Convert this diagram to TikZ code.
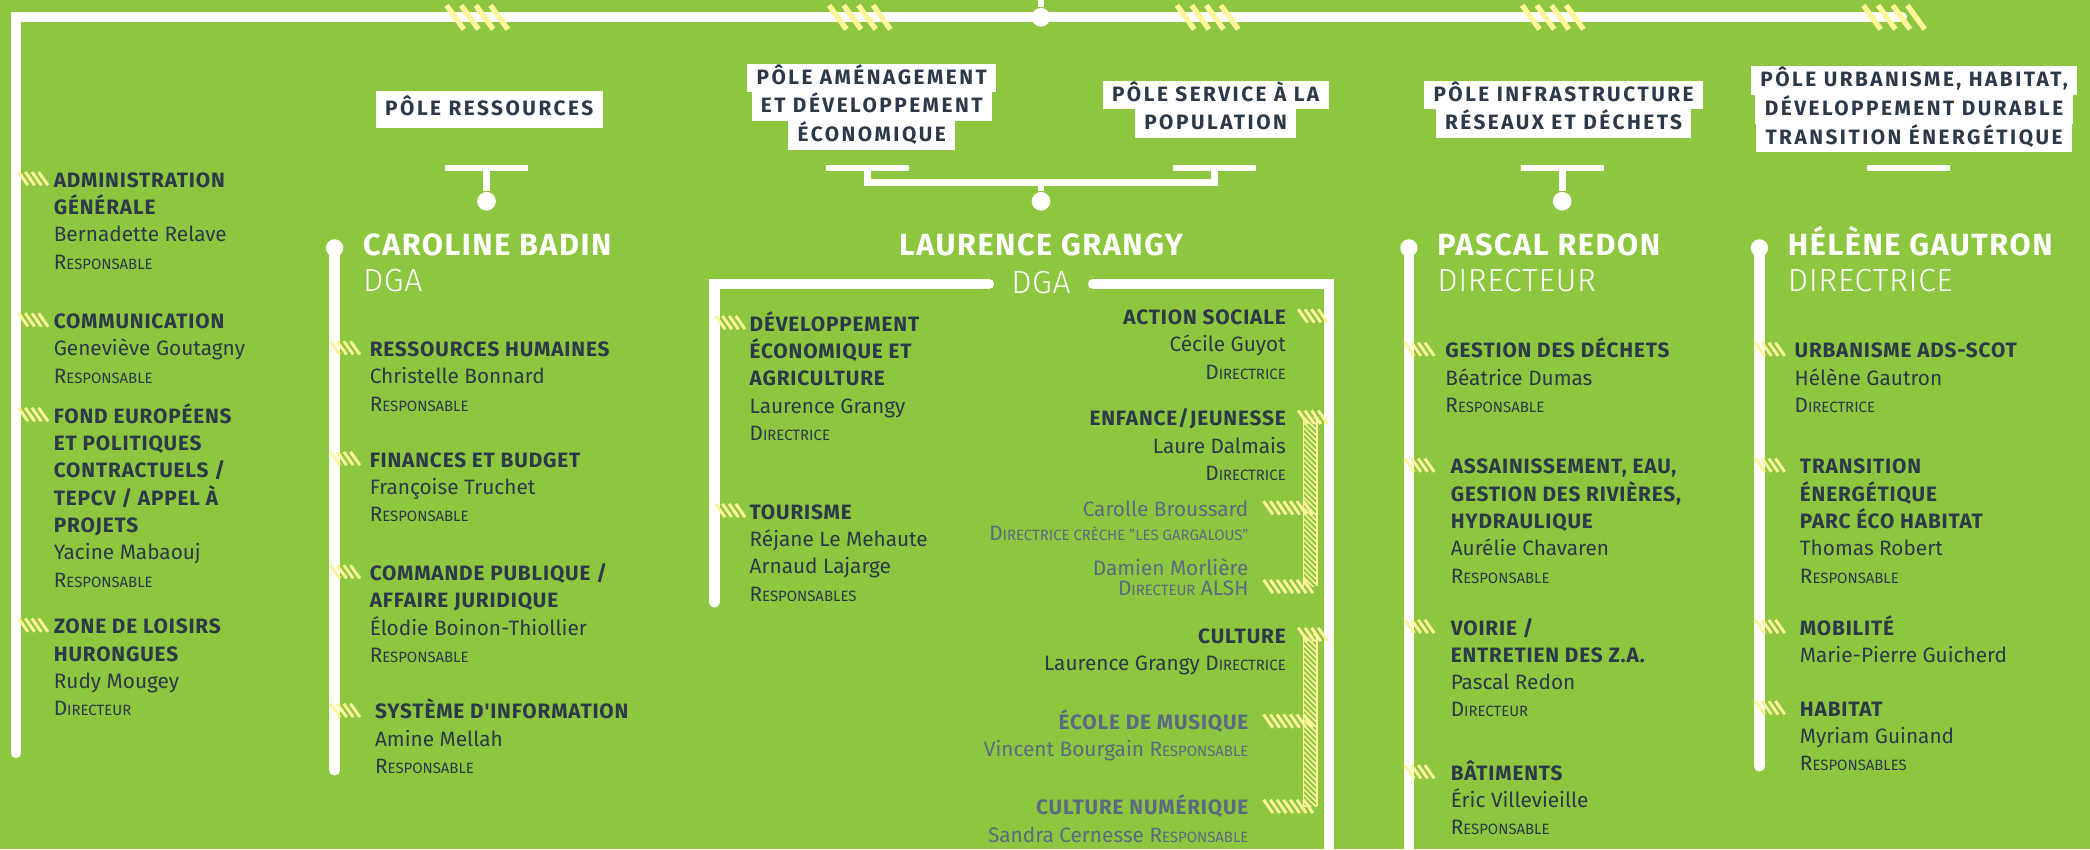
\documentclass[tikz,border=0pt]{standalone}
\usepackage{fontspec}
\setmainfont{Fira Sans}
\newfontfamily\hfont{Fira Sans}[LetterSpace=4]
\newfontfamily\pfont{Fira Sans}[LetterSpace=12]
\newfontfamily\tfont{Fira Sans}[LetterSpace=5]
\IfFontExistsTF{Fira Sans Light}{\newfontfamily\lightfont{Fira Sans Light}[LetterSpace=2]}{\newfontfamily\lightfont{Fira Sans}[LetterSpace=2]}
\usetikzlibrary{calc}

\definecolor{grass}{HTML}{8DC63F}
\definecolor{ink}{HTML}{2B3949}
\definecolor{slate}{HTML}{5A6A80}
\definecolor{straw}{HTML}{FFF59A}

\setlength{\fboxsep}{0pt}
\newcommand{\fl}{\rule{0pt}{8pt}}
\newcommand{\hd}[1]{{\hfont\bfseries #1}}
\newcommand{\role}[2]{#1{\fontsize{5.6}{10.25}\selectfont #2}}
\newcommand{\pl}[1]{\colorbox{white}{\hspace{3.5pt}\rule[-3pt]{0pt}{10.75pt}#1\hspace{3.5pt}}}
\newcommand{\plbig}[1]{\colorbox{white}{\hspace{3.5pt}\rule[-4.5pt]{0pt}{14pt}#1\hspace{3.5pt}}}

\begin{document}
\begin{tikzpicture}[x=0.5pt, y=-0.5pt,
  wline/.style={white, line width=3.8pt},
  bar/.style={white, line width=2.5pt},
  dot/.style={circle, fill=white, inner sep=0pt, minimum size=7pt},
  hdot/.style={dot, minimum size=6.5pt},
  strawline/.style={straw, line width=1.1pt},
  tick/.pic={\foreach \i in {0,...,3} \draw[strawline] (\i*5,-5) -- ++(7,10);},
  longtick/.pic={\foreach \i in {0,...,6} \draw[strawline] (\i*5,-5) -- ++(7,10);},
  bigtick/.pic={\foreach \i in {0,...,3} \draw[straw, line width=2pt] (\i*11,-9) -- ++(13,18);},
  pole/.style={inner sep=0pt, align=center, text=ink, font=\pfont\bfseries\fontsize{7.8}{10.75}\selectfont},
  title/.style={inner sep=0pt, text=white, font=\tfont\bfseries\fontsize{11.5}{13}\selectfont},
  subtitle/.style={inner sep=0pt, text=white, font=\lightfont\fontsize{12}{13}\selectfont},
  item/.style={anchor=north west, align=left, inner sep=0pt, text=ink, font=\fontsize{7.8}{10.25}\selectfont},
  itemr/.style={item, anchor=north east, align=right},
  faded/.style={text=slate}]

% background
\fill[grass] (0,0) rectangle (1568,637);
\useasboundingbox (0,0) rectangle (1568,637);

% main frame
\coordinate (top) at (781,0);
\coordinate (eMain) at (12,565);
\coordinate (eTop) at (1427,13);
\node[dot] (dTop) at (781,13) {};
\draw[wline, line cap=round] (eMain) -- (12,13) -- (eTop);
\draw[bar] (top) -- (dTop);
\foreach \x in {335,622,883,1142,1398} \pic at (\x,13) {bigtick};

% poles
\node[pole] (pRes) at (367,82) {\plbig{PÔLE RESSOURCES}};
\node[pole] (pAme) at (654,80) {\pl{PÔLE AMÉNAGEMENT}\\\pl{ET DÉVELOPPEMENT}\\\pl{ÉCONOMIQUE}};
\node[pole] (pSer) at (912,82) {\pl{PÔLE SERVICE À LA}\\\pl{POPULATION}};
\node[pole] (pInf) at (1173,82) {\pl{PÔLE INFRASTRUCTURE}\\\pl{RÉSEAUX ET DÉCHETS}};
\node[pole] (pUrb) at (1436,82) {\pl{PÔLE URBANISME, HABITAT,}\\\pl{DÉVELOPPEMENT DURABLE}\\\pl{TRANSITION ÉNERGÉTIQUE}};

% connectors under the poles
\coordinate (bRes) at (365,126);
\coordinate (bAme) at (651,126);
\coordinate (bSer) at (911,126);
\coordinate (bInf) at (1172,126);
\coordinate (bUrb) at (1432,126);
\coordinate (jGr) at (781,137);
\node[dot] (dRes) at (365,151) {};
\node[dot] (dGr) at (781,151) {};
\node[dot] (dInf) at (1172,151) {};
\foreach \b in {bRes,bAme,bSer,bInf,bUrb} \draw[bar] (\b) ++(-31,0) -- ++(62,0);
\draw[bar] (bRes) -- (dRes);
\draw[bar] (bInf) -- (dInf);
\draw[bar] (bAme) |- (jGr) -| (bSer);
\draw[bar] (jGr) -- (dGr);

% heads
\node[hdot] (dBadin) at (251,186) {};
\node[hdot] (dRedon) at (1057,186) {};
\node[hdot] (dGautron) at (1320,186) {};
\coordinate (eBadin) at (251,578);
\coordinate (eRedon) at (1057,645);
\coordinate (eGautron) at (1320,575);
\draw[wline, line cap=round] (dBadin.center) -- (eBadin);
\draw[wline, line cap=round] (dRedon.center) -- (eRedon);
\draw[wline, line cap=round] (dGautron.center) -- (eGautron);

\node[title, anchor=base west] (hBadin) at (272,192) {CAROLINE BADIN};
\node[subtitle, anchor=base west] (fBadin) at (272,219) {DGA};
\node[title, anchor=base] (hGrangy) at (781,192) {LAURENCE GRANGY};
\node[subtitle, anchor=base] (fGrangy) at (781,220) {DGA};
\node[title, anchor=base west] (hRedon) at (1078,192) {PASCAL REDON};
\node[subtitle, anchor=base west] (fRedon) at (1078,219) {DIRECTEUR};
\node[title, anchor=base west] (hGautron) at (1341,192) {HÉLÈNE GAUTRON};
\node[subtitle, anchor=base west] (fGautron) at (1341,219) {DIRECTRICE};

% frame round the Grangy services
\coordinate (gA) at (742,213);
\coordinate (gB) at (536,452);
\coordinate (gC) at (820,213);
\coordinate (gD) at (997,645);
\draw[wline, line cap=round] (gA) -- (536,213) -- (gB);
\draw[wline, line cap=round] (gC) -- (997,213) -- (gD);

% ticks
\foreach \y in {134,240,311,469} \pic at (14,\y) {tick};
\foreach \y in {261,344,429,533} \pic at (248,\y) {tick};
\foreach \y in {242,383} \pic at (537,\y) {tick};
\foreach \y in {237,313,476} \pic at (974,\y) {tick};
\foreach \y in {381,440,541,605} \pic at (948,\y) {longtick};
\foreach \y in {262,349,470,579} \pic at (1054,\y) {tick};
\foreach \y in {262,349,470,531} \pic at (1317,\y) {tick};
\foreach \ya/\yb in {313/440,476/605} {
  \begin{scope}
    \clip (978,\ya) rectangle (988,\yb);
    \foreach \k in {-12,-8,...,140} \draw[straw, line width=0.6pt] (978,\ya+\k) -- ++(10,10);
  \end{scope}
  \draw[straw, line width=0.5pt] (978,\ya) -- (978,\yb) (988,\ya) -- (988,\yb);
}

% direct services
\node[item] (sAdm) at (40,124) {\fl\hd{ADMINISTRATION}\\\hd{GÉNÉRALE}\\Bernadette Relave\\\role{R}{ESPONSABLE}};
\node[item] (sCom) at (40,230) {\fl\hd{COMMUNICATION}\\Geneviève Goutagny\\\role{R}{ESPONSABLE}};
\node[item] (sFon) at (40,301) {\fl\hd{FOND EUROPÉENS}\\\hd{ET POLITIQUES}\\\hd{CONTRACTUELS /}\\\hd{TEPCV / APPEL À}\\\hd{PROJETS}\\Yacine Mabaouj\\\role{R}{ESPONSABLE}};
\node[item] (sZon) at (40,459) {\fl\hd{ZONE DE LOISIRS}\\\hd{HURONGUES}\\Rudy Mougey\\\role{D}{IRECTEUR}};

% pole ressources
\node[item] (sRh) at (277,251) {\fl\hd{RESSOURCES HUMAINES}\\Christelle Bonnard\\\role{R}{ESPONSABLE}};
\node[item] (sFin) at (277,334) {\fl\hd{FINANCES ET BUDGET}\\Françoise Truchet\\\role{R}{ESPONSABLE}};
\node[item] (sCmd) at (277,419) {\fl\hd{COMMANDE PUBLIQUE /}\\\hd{AFFAIRE JURIDIQUE}\\Élodie Boinon-Thiollier\\\role{R}{ESPONSABLE}};
\node[item] (sSys) at (281,523) {\fl\hd{SYSTÈME D'INFORMATION}\\Amine Mellah\\\role{R}{ESPONSABLE}};

% poles amenagement / service
\node[item] (sDev) at (562,232) {\fl\hd{DÉVELOPPEMENT}\\\hd{ÉCONOMIQUE ET}\\\hd{AGRICULTURE}\\Laurence Grangy\\\role{D}{IRECTRICE}};
\node[item] (sTou) at (562,373) {\fl\hd{TOURISME}\\Réjane Le Mehaute\\Arnaud Lajarge\\\role{R}{ESPONSABLES}};
\node[itemr] (sAct) at (965,227) {\fl\hd{ACTION SOCIALE}\\Cécile Guyot\\\role{D}{IRECTRICE}};
\node[itemr] (sEnf) at (965,303) {\fl\hd{ENFANCE/JEUNESSE}\\Laure Dalmais\\\role{D}{IRECTRICE}};
\node[itemr, faded] (sCar) at (937,371) {\fl Carolle Broussard\\[-1.25pt]\role{D}{IRECTRICE CRÈCHE "LES GARGALOUS"}};
\node[itemr, faded] (sDam) at (937,415) {\fl Damien Morlière\\[-2.75pt]\role{D}{IRECTEUR} ALSH};
\node[itemr] (sCul) at (965,466) {\fl\hd{CULTURE}\\Laurence Grangy \role{D}{IRECTRICE}};
\node[itemr, faded] (sEco) at (937,531) {\fl\hd{ÉCOLE DE MUSIQUE}\\Vincent Bourgain \role{R}{ESPONSABLE}};
\node[itemr, faded] (sNum) at (937,595) {\fl\hd{CULTURE NUMÉRIQUE}\\Sandra Cernesse \role{R}{ESPONSABLE}};

% pole infrastructure
\node[item] (sGes) at (1084,252) {\fl\hd{GESTION DES DÉCHETS}\\Béatrice Dumas\\\role{R}{ESPONSABLE}};
\node[item] (sAss) at (1088,339) {\fl\hd{ASSAINISSEMENT, EAU,}\\\hd{GESTION DES RIVIÈRES,}\\\hd{HYDRAULIQUE}\\Aurélie Chavaren\\\role{R}{ESPONSABLE}};
\node[item] (sVoi) at (1088,460) {\fl\hd{VOIRIE /}\\\hd{ENTRETIEN DES Z.A.}\\Pascal Redon\\\role{D}{IRECTEUR}};
\node[item] (sBat) at (1088,569) {\fl\hd{BÂTIMENTS}\\Éric Villevieille\\\role{R}{ESPONSABLE}};

% pole urbanisme
\node[item] (sUrb) at (1346,252) {\fl\hd{URBANISME ADS-SCOT}\\Hélène Gautron\\\role{D}{IRECTRICE}};
\node[item] (sTra) at (1350,339) {\fl\hd{TRANSITION}\\\hd{ÉNERGÉTIQUE}\\\hd{PARC ÉCO HABITAT}\\Thomas Robert\\\role{R}{ESPONSABLE}};
\node[item] (sMob) at (1350,460) {\fl\hd{MOBILITÉ}\\Marie-Pierre Guicherd};
\node[item] (sHab) at (1350,521) {\fl\hd{HABITAT}\\Myriam Guinand\\\role{R}{ESPONSABLES}};
\end{tikzpicture}
\end{document}
